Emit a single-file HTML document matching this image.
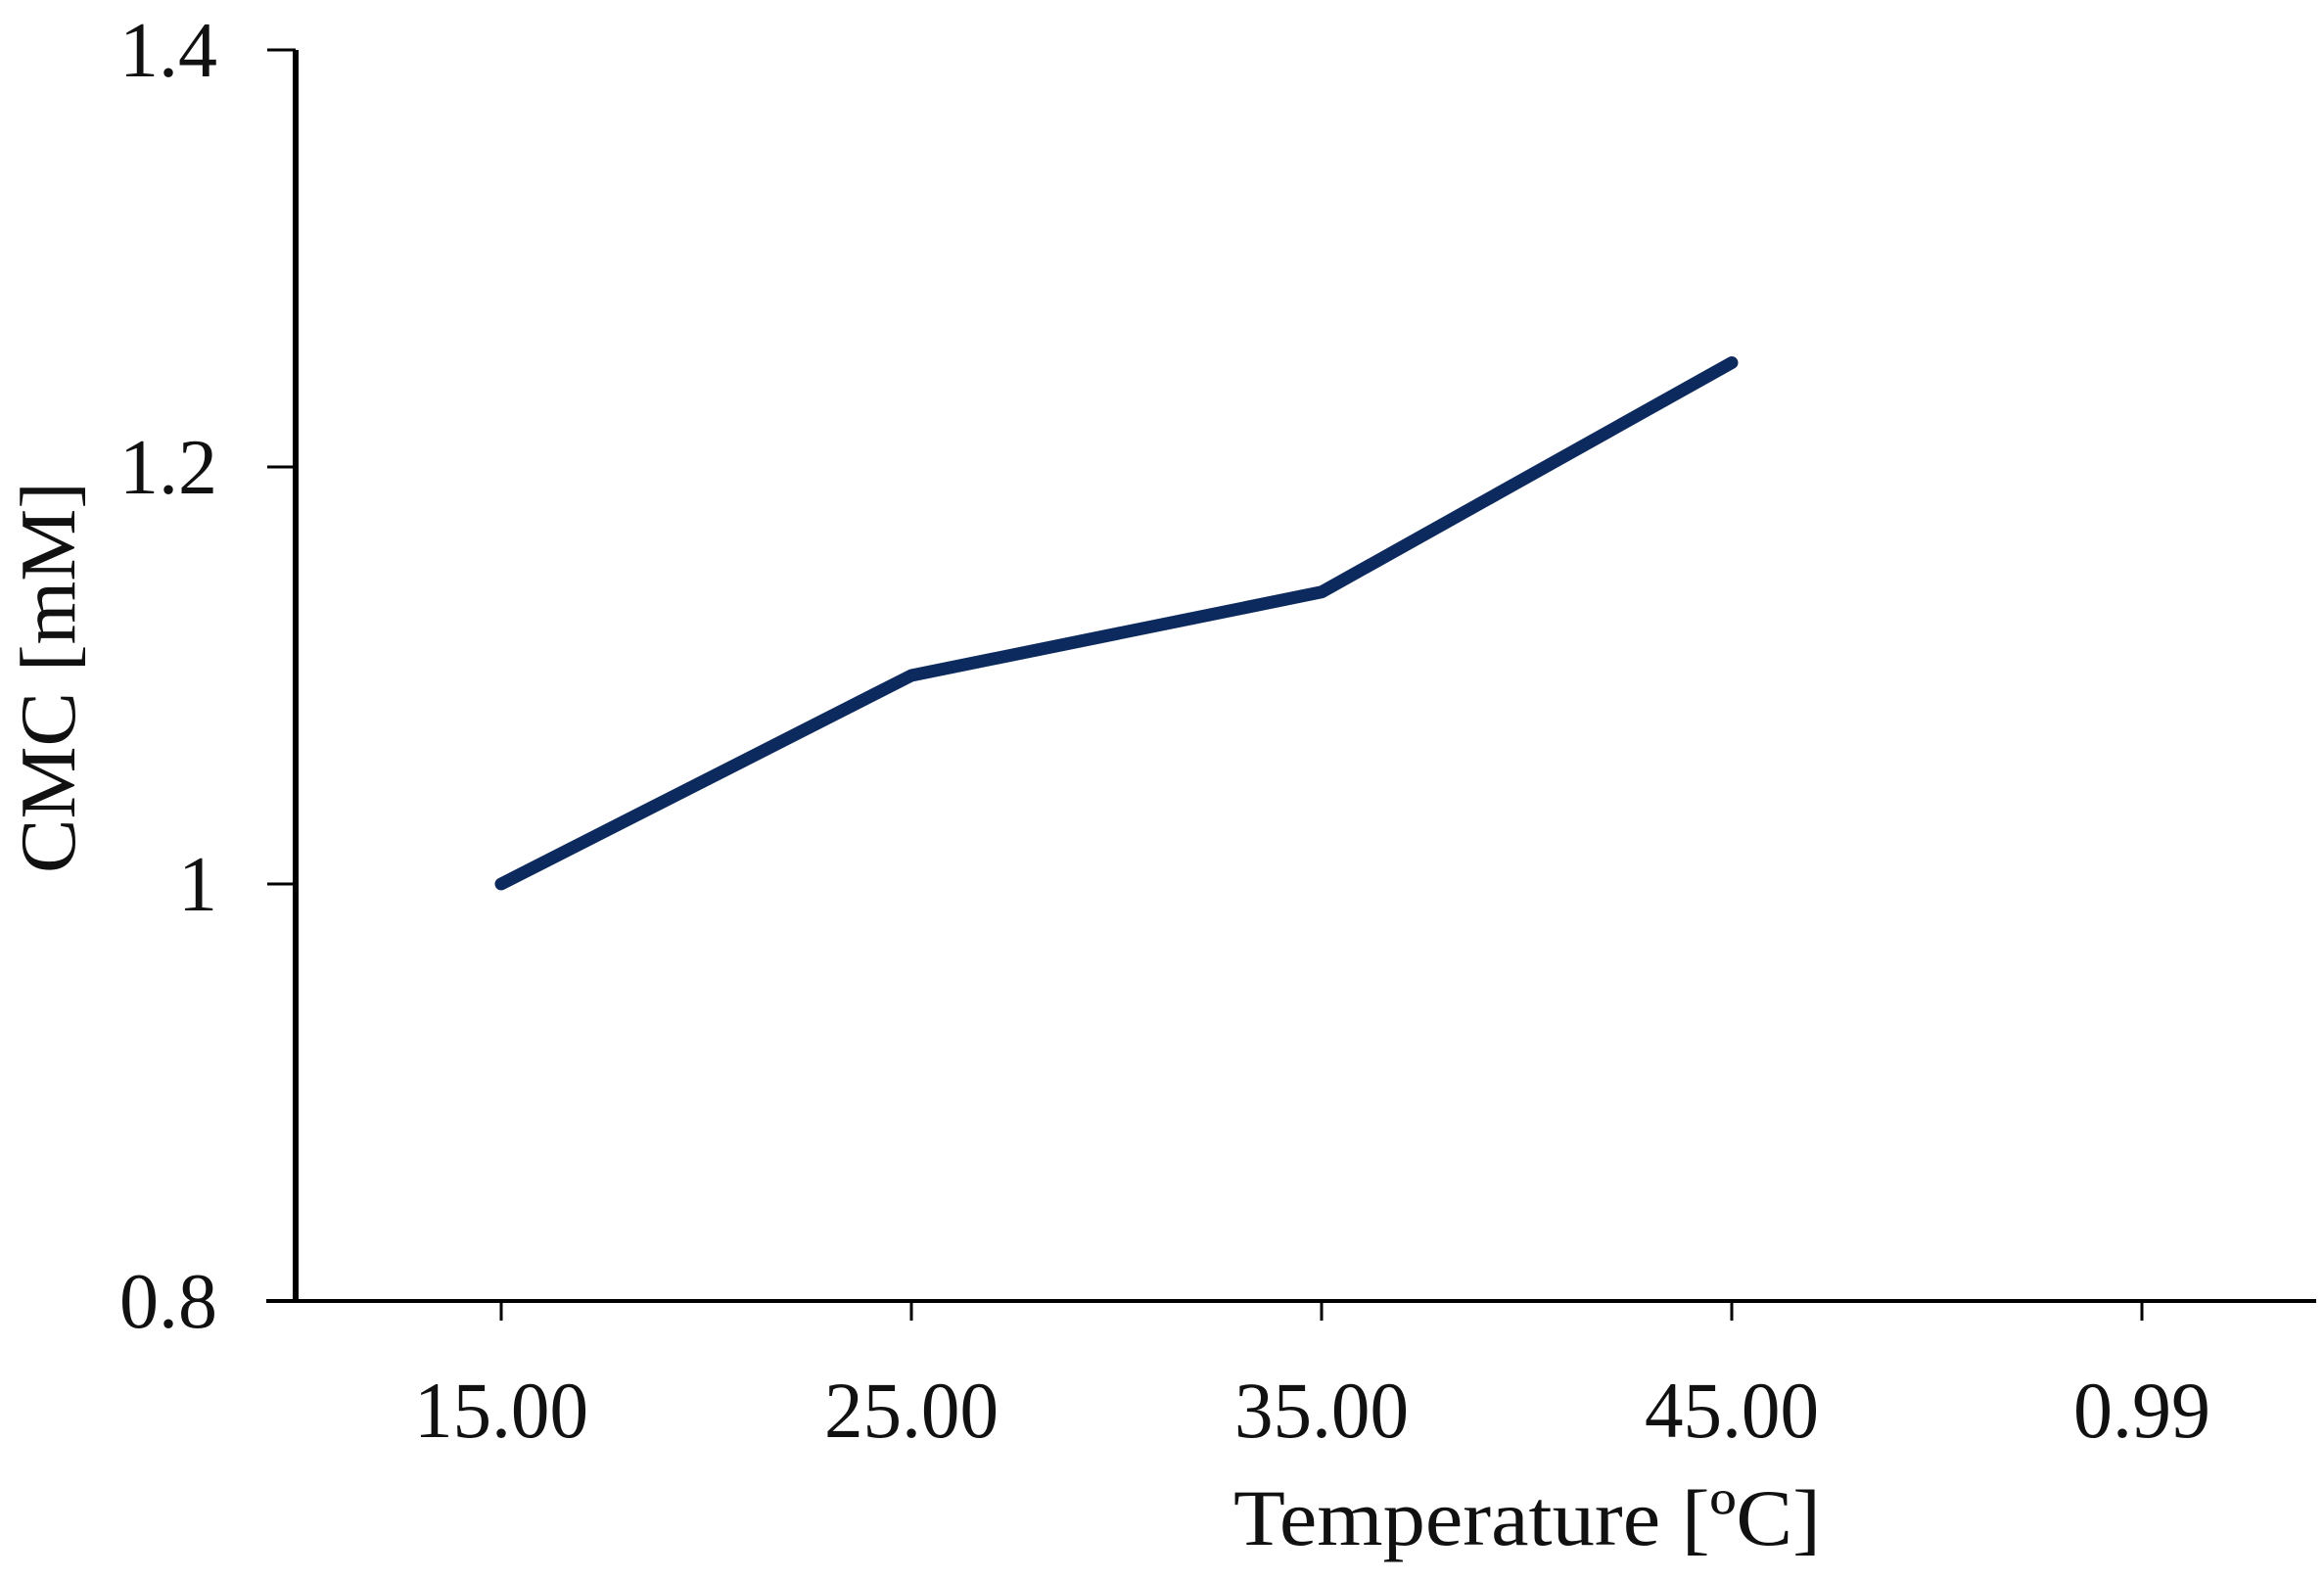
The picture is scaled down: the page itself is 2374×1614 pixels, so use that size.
<!DOCTYPE html>
<html><head><meta charset="utf-8"><style>
html,body{margin:0;padding:0;background:#fff;}
svg{display:block;font-family:"Liberation Serif",serif;}
</style></head><body>
<svg id="chart" width="2374" height="1614" viewBox="0 0 2374 1614" xmlns="http://www.w3.org/2000/svg">
<g id="axes"></g>
<g id="series"></g>
<text transform="translate(76,692) rotate(-90)" text-anchor="middle" font-size="80" fill="#111" textLength="400" lengthAdjust="spacingAndGlyphs">CMC [mM]</text>
<text x="1560" y="1578" text-anchor="middle" font-size="82" fill="#111" textLength="600" lengthAdjust="spacingAndGlyphs">Temperature [ºC]</text>
</svg>
<script>
const categories = ["15.00","25.00","35.00","45.00","0.99"];
const cmcValues = [1.0, 1.1, 1.14, 1.25];
const yTicks = [0.8, 1.0, 1.2, 1.4];
const yTickLabels = ["0.8","1","1.2","1.4"];

const NS="http://www.w3.org/2000/svg";
const x0=512, dx=419, yMin=0.8, yMax=1.4, yTop=51, yBot=1329, axisX=302;
function xPos(i){return x0+i*dx;}
function yPos(v){return yBot-(v-yMin)/(yMax-yMin)*(yBot-yTop);}
function mk(tag,attrs,parent){const e=document.createElementNS(NS,tag);for(const k in attrs)e.setAttribute(k,attrs[k]);parent.appendChild(e);return e;}
const axes=document.getElementById('axes');
const series=document.getElementById('series');

let yl=mk('line',{x1:axisX,y1:yTop,x2:axisX,y2:yBot,stroke:'#000','stroke-width':6},axes);


let xl=mk('line',{x1:axisX-30,y1:yBot,x2:2366,y2:yBot,stroke:'#000','stroke-width':4},axes);



yTicks.forEach((v,i)=>{
  const y=yPos(v);
  const t=mk('line',{x1:axisX-29,y1:y,x2:axisX,y2:y,stroke:'#000','stroke-width':3},axes);
  
  
  const l=mk('text',{x:222,y:y+27,'text-anchor':'end','font-size':80,fill:'#111'},axes);
  l.textContent=yTickLabels[i];
  
  
});
categories.forEach((c,i)=>{
  const x=xPos(i);
  const t=mk('line',{x1:x,y1:yBot,x2:x,y2:yBot+20,stroke:'#000','stroke-width':3},axes);
  
  
  const l=mk('text',{x:x,y:1468,'text-anchor':'middle','font-size':82,fill:'#111',textLength:c.length>4?178:140,lengthAdjust:'spacingAndGlyphs'},axes);
  l.textContent=c;
  
  
});
const pts=cmcValues.map((v,i)=>xPos(i)+','+yPos(v)).join(' ');
const pl=mk('polyline',{points:pts,fill:'none',stroke:'#0d2a5e','stroke-width':13,'stroke-linecap':'round','stroke-linejoin':'round'},series);


</script>
</body></html>
